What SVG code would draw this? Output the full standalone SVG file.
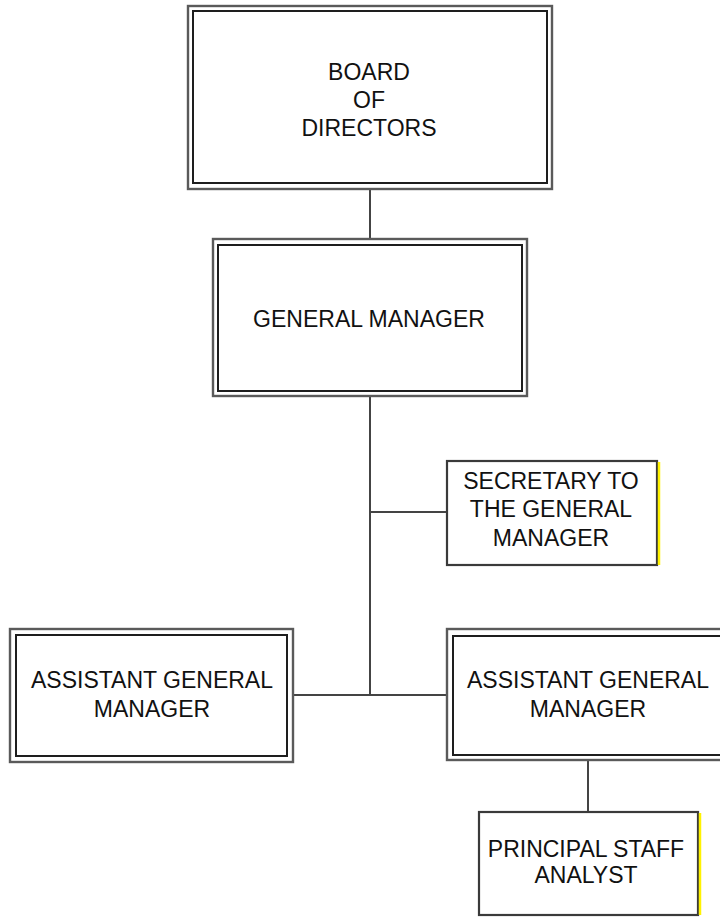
<svg xmlns="http://www.w3.org/2000/svg" width="720" height="917" viewBox="0 0 720 917">
  <style>
    .outer { fill: none; stroke: #5a5a5a; stroke-width: 2.4; }
    .inner { fill: none; stroke: #1e1e1e; stroke-width: 2; }
    .single { fill: #ffffff; stroke: #3a3a3a; stroke-width: 2.2; }
    .bg { fill: #ffffff; }
    .edge { stroke: #fff200; stroke-width: 2.5; }
    .link { stroke: #444444; stroke-width: 2; fill: none; }
    text { font-family: "Liberation Sans", Arial, sans-serif; font-size: 23px; fill: #111111; text-anchor: middle; }
  </style>
  <rect width="720" height="917" fill="#ffffff"/>

  <!-- reporting lines -->
  <g id="connectors">
    <line class="link" x1="370" y1="189" x2="370" y2="239"/>
    <line class="link" x1="370" y1="396" x2="370" y2="695"/>
    <line class="link" x1="370" y1="512" x2="447" y2="512"/>
    <line class="link" x1="293" y1="695" x2="447" y2="695"/>
    <line class="link" x1="588" y1="760" x2="588" y2="812"/>
  </g>

  <g id="board">
    <rect class="bg" x="188" y="6" width="364" height="183"/>
    <rect class="outer" x="188" y="6" width="364" height="183"/>
    <rect class="inner" x="193" y="11" width="354" height="172"/>
    <text x="369" y="80">BOARD</text>
    <text x="369" y="108">OF</text>
    <text x="369" y="136">DIRECTORS</text>
  </g>

  <g id="general-manager">
    <rect class="bg" x="213" y="239" width="314" height="157"/>
    <rect class="outer" x="213" y="239" width="314" height="157"/>
    <rect class="inner" x="218" y="245" width="304" height="146"/>
    <text x="369" y="327">GENERAL MANAGER</text>
  </g>

  <g id="secretary">
    <rect class="single" x="447" y="461" width="210" height="104"/>
    <line class="edge" x1="659" y1="462" x2="659" y2="565"/>
    <text x="551" y="489">SECRETARY TO</text>
    <text x="551" y="517">THE GENERAL</text>
    <text x="551" y="546">MANAGER</text>
  </g>

  <g id="agm-left">
    <rect class="bg" x="10" y="629" width="283" height="133"/>
    <rect class="outer" x="10" y="629" width="283" height="133"/>
    <rect class="inner" x="16" y="635" width="271" height="121"/>
    <text x="152" y="688">ASSISTANT GENERAL</text>
    <text x="152" y="717">MANAGER</text>
  </g>

  <g id="agm-right">
    <rect class="bg" x="447" y="629" width="283" height="131"/>
    <rect class="outer" x="447" y="629" width="283" height="131"/>
    <rect class="inner" x="453" y="636" width="271" height="119"/>
    <text x="588" y="688">ASSISTANT GENERAL</text>
    <text x="588" y="717">MANAGER</text>
  </g>

  <g id="staff-analyst">
    <rect class="single" x="479" y="812" width="219" height="103"/>
    <line class="edge" x1="700" y1="813" x2="700" y2="915"/>
    <text x="586" y="857">PRINCIPAL STAFF</text>
    <text x="586" y="883">ANALYST</text>
  </g>
</svg>
